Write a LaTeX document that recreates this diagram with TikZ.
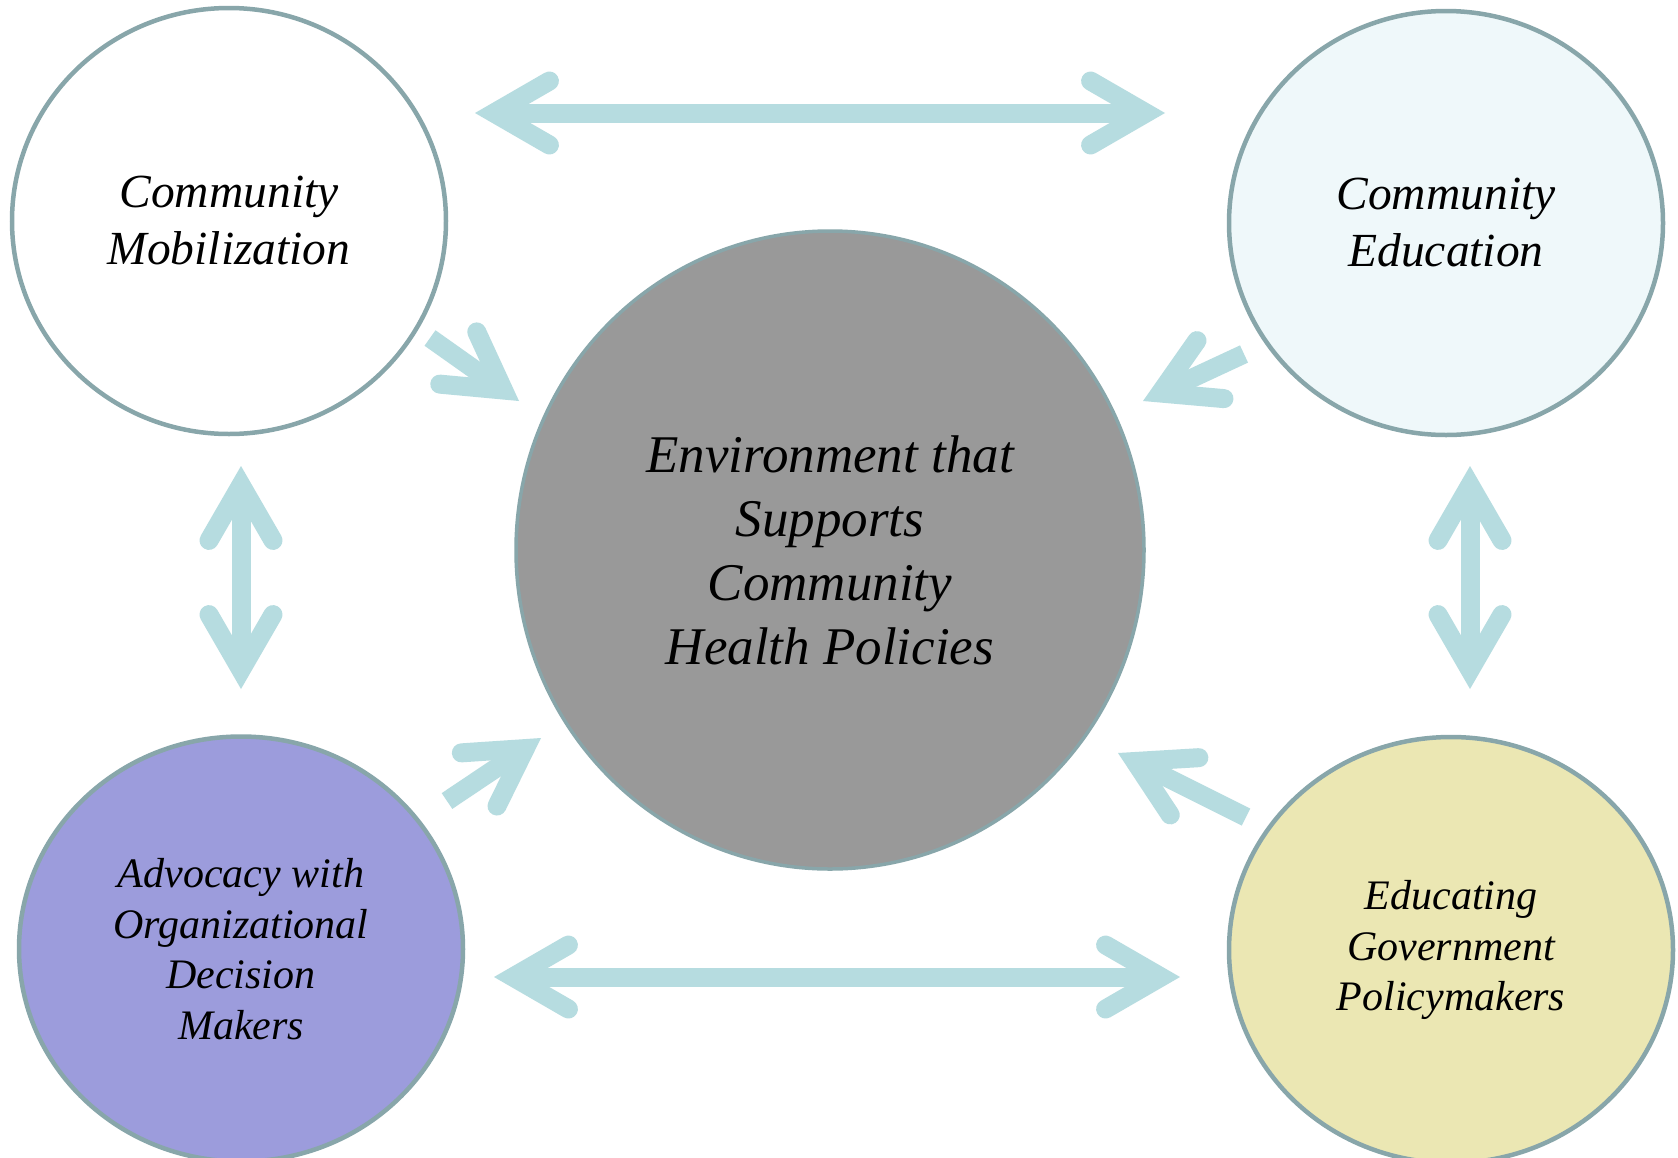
\documentclass[tikz,border=0pt]{standalone}
\usepackage{fontspec}
\setmainfont{Liberation Serif}
\usetikzlibrary{calc,shapes.geometric}
\definecolor{ringc}{RGB}{136,166,170}
\definecolor{arrc}{RGB}{182,220,224}
\definecolor{fillTR}{RGB}{239,248,250}
\definecolor{fillBL}{RGB}{156,156,220}
\definecolor{fillBR}{RGB}{235,231,179}
\definecolor{fillC}{RGB}{153,153,153}
\newcommand{\barbtip}[2]{%
  \coordinate (hv) at ($(#1)!19pt!(#2)$);
  \draw[headline] ($(hv)!64pt!30:(#2)$) -- (hv) -- ($(hv)!64pt!-30:(#2)$);}
\tikzset{
  bub/.style={ellipse, draw=ringc, line width=4.5pt, inner sep=0pt, align=center, text=black},
  shaft/.style={draw=arrc, line width=19pt, line cap=butt},
  headline/.style={draw=arrc, line width=19pt, line cap=round, line join=miter},
  fA/.style={font=\fontsize{47.5}{57}\selectfont\itshape},
  fB/.style={font=\fontsize{42}{50.5}\selectfont\itshape},
  fC/.style={font=\fontsize{53}{64}\selectfont\itshape}
}
\begin{document}
\begin{tikzpicture}[x=1pt,y=-1pt]
\useasboundingbox (0,0) rectangle (1678,1157);
\clip (0,0) rectangle (1678,1157);
\fill[white] (0,0) rectangle (1678,1157);

% circles
\node[bub, fill=white, fA, minimum width=434pt, minimum height=426pt] (mob) at (229,221) {Community\\Mobilization};
\node[bub, fill=fillTR, fA, minimum width=434pt, minimum height=424pt] (edu) at (1446,223) {Community\\Education};
\node[bub, fill=fillBL, fB, minimum width=444pt, minimum height=425pt] (adv) at (241,949) {Advocacy with\\Organizational\\Decision\\Makers};
\node[bub, fill=fillBR, fB, minimum width=444pt, minimum height=426pt] (gov) at (1451,950) {Educating\\Government\\Policymakers};
\node[bub, fill=fillC, fC, line width=3.5pt, minimum width=628pt, minimum height=638pt] (env) at (830,550) {Environment that\\Supports\\Community\\Health Policies};

% arrow end points
\coordinate (topL) at (475,113);
\coordinate (topR) at (1165,113);
\coordinate (botL) at (494,977);
\coordinate (botR) at (1180,977);
\coordinate (lvT) at (241,466);
\coordinate (lvB) at (241,689);
\coordinate (rvT) at (1470,466);
\coordinate (rvB) at (1470,689);
\coordinate (tlTail) at (430,338);
\coordinate (tlTip) at (519,401);
\coordinate (blTail) at (447,801);
\coordinate (blTip) at (541,738);
\coordinate (brTail) at (1246,817);
\coordinate (brTip) at (1118,753);
\coordinate (trTail) at (1244,354);
\coordinate (trTip) at (1143,401);

% double arrows
\foreach \a/\b in {topL/topR, botL/botR, lvT/lvB, rvT/rvB}{
  \draw[shaft] ($(\a)!19pt!(\b)$) -- ($(\b)!19pt!(\a)$);
  \barbtip{\a}{\b}
  \barbtip{\b}{\a}
}
% single arrows into the centre
\foreach \t/\p in {tlTail/tlTip, blTail/blTip, brTail/brTip, trTail/trTip}{
  \draw[shaft] (\t) -- ($(\p)!19pt!(\t)$);
  \barbtip{\p}{\t}
}
\end{tikzpicture}
\end{document}
